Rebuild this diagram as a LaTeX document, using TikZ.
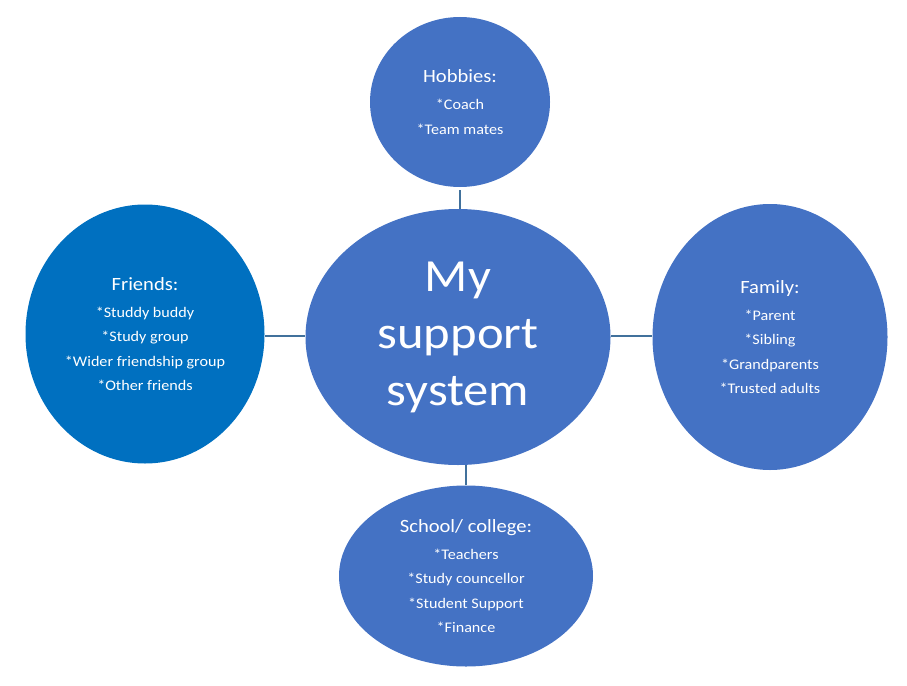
\documentclass[tikz,border=0pt]{standalone}
\usepackage{fontspec}
\setmainfont{Carlito}[FakeStretch=1.1]
\usetikzlibrary{shapes.geometric}
\definecolor{bubble}{HTML}{4472C4}
\definecolor{friendblue}{HTML}{0070C0}
\definecolor{linkc}{HTML}{41719C}
\tikzset{
  bubble/.style={ellipse, fill=bubble, draw=none, inner sep=0pt, text=white, align=center,
    font=\fontsize{14.67}{24.4}\selectfont},
  link/.style={draw=linkc, line width=1.3pt},
}
\newcommand{\ttl}[1]{{\fontsize{18.7}{24.4}\selectfont #1}\\[2.5pt]}
\begin{document}
\begin{tikzpicture}[x=1pt,y=-1pt]
\useasboundingbox (0,0) rectangle (907,685);
\node[bubble, minimum width=305pt, minimum height=256pt,
  font=\fontsize{46}{57}\selectfont] (ctr) at (458,337) {My\\support\\system};
\node[bubble, minimum width=180pt, minimum height=170pt] (hob) at (460,102)
  {\ttl{Hobbies:}*Coach\\*Team mates};
\node[bubble, fill=friendblue, minimum width=239pt, minimum height=259pt] (fri) at (145,334)
  {\ttl{Friends:}*Studdy buddy\\*Study group\\*Wider friendship group\\*Other friends};
\node[bubble, minimum width=235pt, minimum height=266pt] (fam) at (770,337)
  {\ttl{Family:}*Parent\\*Sibling\\*Grandparents\\*Trusted adults};
\node[bubble, minimum width=254pt, minimum height=181pt] (sch) at (466,576)
  {\ttl{School/ college:}*Teachers\\*Study councellor\\*Student Support\\*Finance};
\draw[link] ([yshift=-3pt]hob.south) -- (hob.south |- ctr.north);
\draw[link] (sch.north) -- (sch.north |- ctr.south);
\draw[link] (fri.east |- 0,336) -- (ctr.west |- 0,336);
\draw[link] (ctr.east |- 0,336) -- (fam.west |- 0,336);
\end{tikzpicture}
\end{document}
